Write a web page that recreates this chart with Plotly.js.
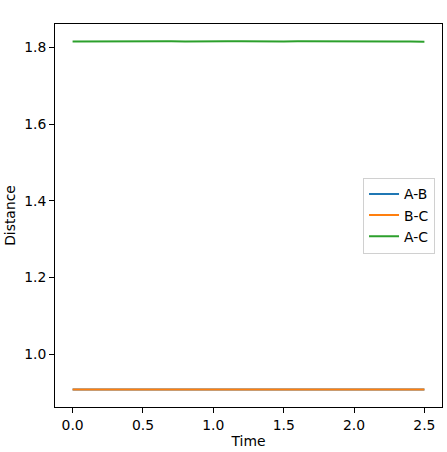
<!DOCTYPE html>
<html>
<head>
<meta charset="utf-8">
<script src="https://cdn.plot.ly/plotly-3.0.1.min.js"></script>
<style>html,body{margin:0;padding:0;background:#fff;}#chart{width:447px;height:452px;}</style>
</head>
<body>
<div id="chart"></div>
<script>
const time = [0.0,0.1,0.2,0.3,0.4,0.5,0.6,0.7,0.8,0.9,1.0,1.1,1.2,1.3,1.4,1.5,1.6,1.7,1.8,1.9,2.0,2.1,2.2,2.3,2.4,2.5];
const distAB = [0.9078,0.9079,0.9080,0.9078,0.9076,0.9077,0.9079,0.9080,0.9078,0.9076,0.9077,0.9079,0.9080,0.9078,0.9076,0.9077,0.9079,0.9080,0.9078,0.9076,0.9077,0.9079,0.9080,0.9078,0.9076,0.9076];
const distBC = [0.9076,0.9077,0.9078,0.9076,0.9074,0.9075,0.9077,0.9078,0.9076,0.9074,0.9075,0.9077,0.9078,0.9076,0.9074,0.9075,0.9077,0.9078,0.9076,0.9074,0.9075,0.9077,0.9078,0.9076,0.9074,0.9074];
const distAC = [1.8155,1.8158,1.8160,1.8156,1.8150,1.8152,1.8157,1.8160,1.8155,1.8150,1.8152,1.8158,1.8160,1.8154,1.8150,1.8153,1.8158,1.8160,1.8155,1.8150,1.8152,1.8157,1.8160,1.8156,1.8151,1.8150];
const seriesNames = ["A-B","B-C","A-C"];
const colors = ["#1f77b4","#ff7f0e","#2ca02c"];
const allY = [distAB, distBC, distAC];

const traces = allY.map((y,i)=>({x: time, y: y, name: seriesNames[i], type:'scatter', mode:'lines', line:{color: colors[i], width: 2}}));

const F = 'DejaVu Sans';
const axisCommon = {
  showgrid:false, zeroline:false, showline:true, linecolor:'#000', linewidth:1, mirror:true,
  ticks:'outside', ticklen:5, tickwidth:1, tickcolor:'#000',
  tickfont:{family:F, size:13.9, color:'#000'}
};
const layout = {
  width:447, height:452,
  margin:{l:55, r:5, t:24, b:45},
  paper_bgcolor:'#fff', plot_bgcolor:'#fff',
  font:{family:F, color:'#000'},
  showlegend:true,
  legend:{x:0.982, xanchor:'right', y:0.5, yanchor:'middle', bgcolor:'rgba(255,255,255,0.8)', bordercolor:'#d0d0d0', borderwidth:1, font:{family:F, size:13.9, color:'#000'}},
  xaxis: Object.assign({}, axisCommon, {range:[-0.125, 2.625], dtick:0.5, tick0:0, tickformat:'.1f', title:{text:'Time', font:{family:F, size:13.9}, standoff:4}}),
  yaxis: Object.assign({}, axisCommon, {range:[0.862, 1.861], dtick:0.2, tick0:0, tickformat:'.1f', title:{text:'Distance', font:{family:F, size:13.9}, standoff:5}})
};
Plotly.newPlot('chart', traces, layout, {displayModeBar:false, staticPlot:true});
</script>
</body>
</html>
